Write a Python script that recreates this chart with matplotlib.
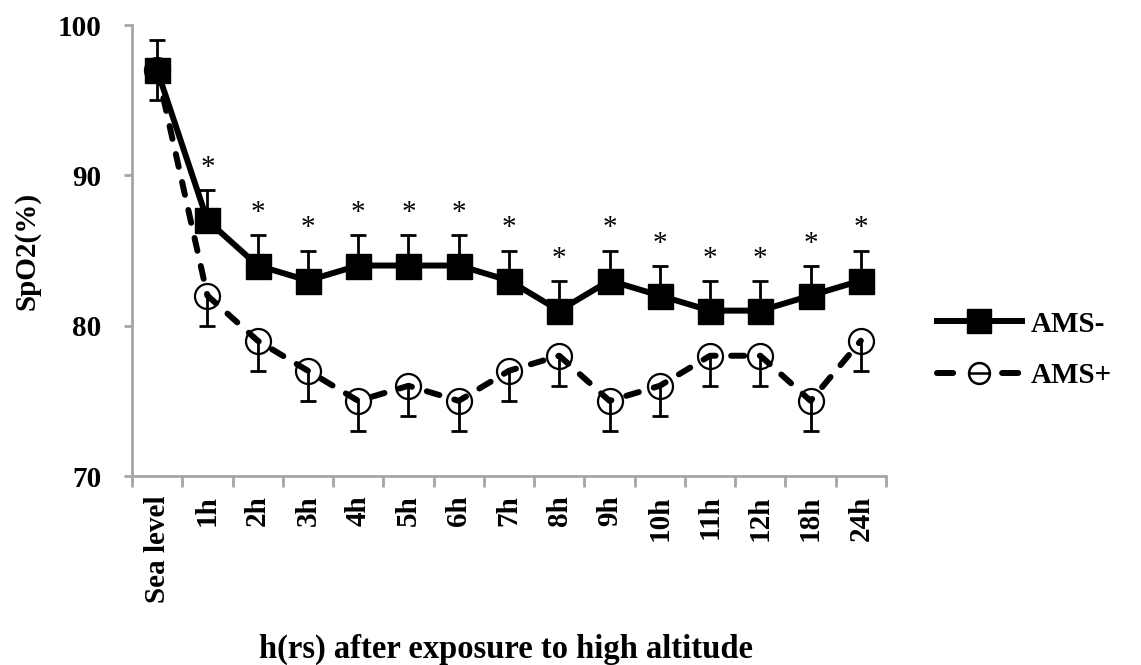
import numpy as np
import matplotlib
matplotlib.use("Agg")
import matplotlib.pyplot as plt
from matplotlib.lines import Line2D
from matplotlib.path import Path

categories = ["Sea level", "1h", "2h", "3h", "4h", "5h", "6h", "7h", "8h",
              "9h", "10h", "11h", "12h", "18h", "24h"]
ams_neg = [97, 87, 84, 83, 84, 84, 84, 83, 81, 83, 82, 81, 81, 82, 83]
ams_neg_err = [2, 2, 2, 2, 2, 2, 2, 2, 2, 2, 2, 2, 2, 2, 2]
ams_pos = [97, 82, 79, 77, 75, 76, 75, 77, 78, 75, 76, 78, 78, 75, 79]
ams_pos_err = [2, 2, 2, 2, 2, 2, 2, 2, 2, 2, 2, 2, 2, 2, 2]
significant = [False] + [True] * 14
y_ticks = [70, 80, 90, 100]

plt.rcParams['font.family'] = ['Liberation Serif', 'DejaVu Serif']
FS = 21

fig = plt.figure(figsize=(11.41, 6.65), dpi=100)
ax = fig.add_axes([132/1141, 1-476/665, (886-132)/1141, (476-25)/665])

x = np.arange(len(categories))
neg = np.array(ams_neg, float)
pos = np.array(ams_pos, float)
negerr = np.array(ams_neg_err, float)
poserr = np.array(ams_pos_err, float)

LW = 4.3
# AMS+ (dashed, open circles)
ax.plot(x, pos, color='black', lw=LW, linestyle=(0, (2.2, 2.6)),
        dash_capstyle='round', marker='o', ms=18, mfc='none', mec='black',
        mew=1.6, zorder=2)
ax.vlines(x, pos - poserr, pos, color='black', lw=2, zorder=3)
ax.plot(x, pos - poserr, ls='none', marker='_', ms=11, mew=2, color='black', zorder=3)

# AMS- (solid, filled squares)
ax.vlines(x, neg, neg + negerr, color='black', lw=2, zorder=4)
ax.plot(x, neg + negerr, ls='none', marker='_', ms=11, mew=2, color='black', zorder=4)
ax.plot(x, neg, color='black', lw=LW, marker='s', ms=18, mfc='black',
        mec='black', zorder=5)

for xi, yi, ei, s in zip(x, neg, negerr, significant):
    if s:
        ax.text(xi, yi + ei + 1.0, '*', ha='center', va='baseline',
                fontsize=FS, color='black', zorder=6)

ax.set_xlim(-0.5, len(categories) - 0.5)
ax.set_ylim(70, 100)
ax.set_yticks(y_ticks)
ax.set_yticklabels([str(v) for v in y_ticks], fontsize=FS, fontweight='bold')
ax.set_xticks(x)
ax.set_xticklabels(categories, rotation=90, fontsize=FS, fontweight='bold',
                   va='top', ha='center')
ax.set_xticks(np.arange(-0.5, len(categories)), minor=True)
ax.tick_params(axis='x', which='major', length=0, pad=14)
ax.tick_params(axis='x', which='minor', length=8, width=2, color='#a6a6a6',
               direction='out')
ax.tick_params(axis='y', which='major', length=6, width=2, color='#a6a6a6',
               direction='out', pad=16)

for s in ['top', 'right']:
    ax.spines[s].set_visible(False)
for s in ['left', 'bottom']:
    ax.spines[s].set_color('#a6a6a6')
    ax.spines[s].set_linewidth(2)

ax.set_ylabel('SpO2(%)', fontsize=FS, fontweight='bold', labelpad=12)
fig.text(506/1141, 1-658/665, 'h(rs) after exposure to high altitude',
         ha='center', va='baseline', fontsize=23.5, fontweight='bold')

circ = Path.unit_circle()
bar = Path([(-1, 0), (1, 0)], [Path.MOVETO, Path.LINETO])
theta_marker = Path.make_compound_path(circ, bar)

h_neg = Line2D([], [], color='black', lw=LW, marker='s', ms=17, mfc='black')
h_pos = Line2D([], [], color='black', lw=LW, linestyle=(0, (2.7, 8.2)),
               dash_capstyle='round', marker=theta_marker, ms=15,
               mfc='white', mec='black', mew=1.8)
leg = fig.legend([h_neg, h_pos], ['AMS-', 'AMS+'], loc='center left',
                 bbox_to_anchor=(937/1141, 1-350/665), frameon=False,
                 prop={'size': FS, 'weight': 'bold'}, handlelength=2.9,
                 handletextpad=0.3, labelspacing=0.85, borderpad=0,
                 borderaxespad=0, numpoints=1)

fig.savefig('out.png', dpi=100)
